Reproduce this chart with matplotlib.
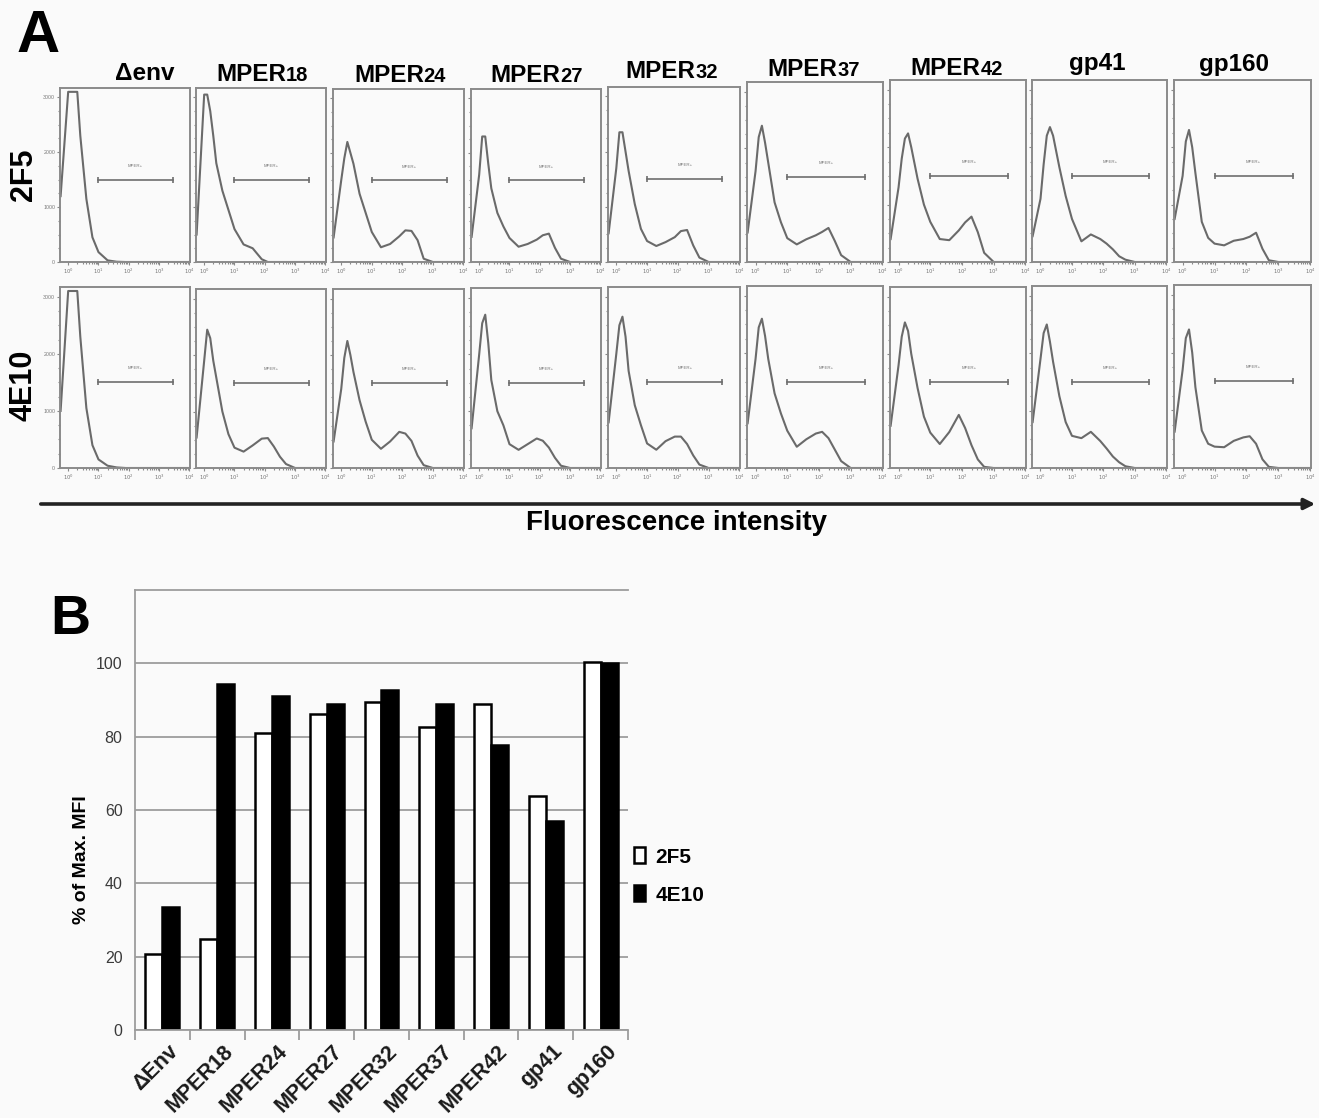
import numpy as np
import matplotlib
matplotlib.use('Agg')
import matplotlib.pyplot as plt
from matplotlib.patches import FancyArrowPatch

plt.rcParams['font.family'] = ['Liberation Sans', 'DejaVu Sans']

# ---- panel A: flow histograms (x in log10 decades, y = cell counts) ----
SAMPLES = ['Δenv', 'MPER18', 'MPER24', 'MPER27', 'MPER32', 'MPER37', 'MPER42', 'gp41', 'gp160']
TITLE_MAIN = ['Δenv', 'MPER', 'MPER', 'MPER', 'MPER', 'MPER', 'MPER', 'gp41', 'gp160']
TITLE_SUB = ['', '18', '24', '27', '32', '37', '42', '', '']
ANTIBODIES = ['2F5', '4E10']

LOG_X = [-0.25, 0.0, 0.1, 0.2, 0.3, 0.4, 0.6, 0.8, 1.0, 1.3, 1.6, 1.9, 2.1, 2.3, 2.5, 2.7, 3.0, 4.0]

counts_2f5 = [
    [1200, 3100, 3100, 3100, 3100, 2300, 1150, 450, 180, 30, 5, 0, 0, 0, 0, 0, 0, 0],
    [500, 3050, 3050, 2750, 2300, 1800, 1300, 950, 600, 320, 250, 50, 0, 0, 0, 0, 0, 0],
    [450, 1500, 1900, 2200, 2000, 1800, 1250, 900, 550, 270, 330, 470, 580, 570, 400, 60, 0, 0],
    [460, 1600, 2300, 2300, 1800, 1350, 900, 650, 440, 280, 330, 410, 490, 520, 260, 60, 0, 0],
    [520, 1700, 2350, 2350, 2000, 1650, 1050, 600, 380, 290, 360, 450, 560, 580, 300, 80, 0, 0],
    [520, 1600, 2200, 2400, 2100, 1750, 1050, 700, 420, 310, 400, 470, 530, 600, 370, 120, 0, 0],
    [400, 1300, 1800, 2150, 2240, 2000, 1450, 1000, 700, 400, 380, 550, 690, 790, 520, 160, 0, 0],
    [450, 1100, 1700, 2200, 2350, 2200, 1650, 1150, 750, 360, 480, 400, 320, 220, 100, 40, 0, 0],
    [750, 1500, 2100, 2300, 2000, 1550, 700, 420, 320, 290, 370, 400, 440, 510, 230, 30, 0, 0],
]
counts_4e10 = [
    [1000, 3100, 3100, 3100, 3100, 2300, 1050, 400, 150, 40, 10, 0, 0, 0, 0, 0, 0, 0],
    [540, 1900, 2450, 2300, 1900, 1600, 1000, 600, 360, 290, 400, 520, 530, 380, 200, 70, 0, 0],
    [470, 1400, 1950, 2250, 2000, 1700, 1200, 820, 500, 340, 470, 640, 610, 480, 220, 50, 0, 0],
    [700, 2000, 2550, 2700, 2200, 1550, 1000, 750, 420, 320, 420, 520, 480, 360, 180, 40, 0, 0],
    [800, 2000, 2500, 2650, 2300, 1700, 1100, 750, 430, 320, 470, 550, 550, 420, 220, 60, 0, 0],
    [780, 1900, 2450, 2600, 2300, 1900, 1300, 950, 650, 370, 500, 600, 630, 520, 320, 120, 0, 0],
    [740, 1800, 2300, 2550, 2400, 2000, 1400, 900, 620, 420, 630, 930, 700, 400, 150, 20, 0, 0],
    [800, 1900, 2350, 2500, 2200, 1850, 1250, 800, 560, 520, 630, 470, 340, 200, 100, 30, 0, 0],
    [630, 1700, 2250, 2400, 2000, 1400, 650, 420, 370, 360, 470, 530, 550, 420, 150, 20, 0, 0],
]

# "MPER+" gate marker
GATE_X = [1.0, 3.45]
GATE_Y = 1500

# ---- panel B: % of max MFI ----
bar_labels = ['ΔEnv', 'MPER18', 'MPER24', 'MPER27', 'MPER32', 'MPER37', 'MPER42', 'gp41', 'gp160']
mfi_2f5 = [20.7, 24.8, 81.1, 86.3, 89.5, 82.6, 89.0, 63.7, 100.5]
mfi_4e10 = [33.5, 94.5, 91.2, 88.8, 92.6, 88.9, 77.6, 56.9, 100.0]

W, H = 1319, 1118
BG = '#fafafa'
fig = plt.figure(figsize=(W / 100, H / 100), dpi=100, facecolor=BG)


def px_axes(x0, y0, x1, y1):
    return fig.add_axes([x0 / W, 1 - y1 / H, (x1 - x0) / W, (y1 - y0) / H])


col_left = [60, 196, 333, 471, 608, 747, 890, 1032, 1174]
col_right = [190, 326, 464, 601, 740, 883, 1026, 1167, 1311]
row1_top = [88, 88, 89, 89, 87, 82, 80, 80, 80]
row2_top = [287, 289, 289, 288, 287, 286, 287, 286, 285]
row_bottom = [262, 468]
title_x = [145, 262, 400, 537, 672, 814, 957, 1097, 1234]
title_y = [80, 81, 82, 82, 78, 76, 75, 70, 71]

minor = [d + np.log10(k) for d in range(4) for k in range(2, 10)]

for r, counts in enumerate([counts_2f5, counts_4e10]):
    tops = row1_top if r == 0 else row2_top
    for c in range(len(SAMPLES)):
        ax = px_axes(col_left[c], tops[c], col_right[c], row_bottom[r])
        ax.set_facecolor(BG)
        ax.plot(LOG_X, counts[c], color='#6a6a6a', lw=1.5)
        ax.plot(GATE_X, [GATE_Y, GATE_Y], color='#6e6e6e', lw=1.2, marker='|', ms=5, mew=1.2)
        ax.text(np.mean(GATE_X), GATE_Y + 230, 'MPER+', fontsize=3.2, color='#777777', ha='center')
        ax.set_xlim(-0.27, 4.02)
        ax.set_ylim(0, 3170)
        ax.set_xticks(range(5))
        ax.set_xticklabels([r'$10^{%d}$' % d for d in range(5)])
        ax.set_xticks(minor, minor=True)
        ax.set_yticks([0, 1000, 2000, 3000])
        ax.set_yticks(range(250, 3100, 250), minor=True)
        if c == 0:
            ax.set_yticklabels(['0', '1000', '2000', '3000'])
        else:
            ax.set_yticklabels([])
        ax.tick_params(which='both', colors='#8a8a8a', labelcolor='#777777', labelsize=3.8,
                       length=2.5, width=0.8, pad=1)
        ax.tick_params(which='minor', length=1.5)
        for s in ax.spines.values():
            s.set_color('#8a8a8a')
            s.set_linewidth(1.4)

# column titles: main text plus smaller number
renderer = fig.canvas.get_renderer()
for c in range(len(SAMPLES)):
    yb = 1 - title_y[c] / H
    t1 = fig.text(0, yb, TITLE_MAIN[c], fontsize=17.5, fontweight='bold', va='baseline', ha='left')
    t2 = fig.text(0, yb, TITLE_SUB[c], fontsize=14.5, fontweight='bold', va='baseline', ha='left')
    w1 = t1.get_window_extent(renderer).width
    w2 = t2.get_window_extent(renderer).width if TITLE_SUB[c] else 0
    x0 = title_x[c] - (w1 + w2) / 2
    t1.set_x(x0 / W)
    t2.set_x((x0 + w1) / W)

fig.text(17 / W, 1 - 36 / H, 'A', fontsize=43, fontweight='bold', va='center', ha='left')
fig.text(24 / W, 1 - 175 / H, ANTIBODIES[0], fontsize=22, fontweight='bold', rotation=90,
         ha='center', va='center')
fig.text(24 / W, 1 - 385 / H, ANTIBODIES[1], fontsize=22, fontweight='bold', rotation=90,
         ha='center', va='center')

arrow = FancyArrowPatch((38 / W, 1 - 504 / H), (1318 / W, 1 - 504 / H), transform=fig.transFigure,
                        arrowstyle='-|>', mutation_scale=16, lw=2.6, color='#222222')
fig.add_artist(arrow)
fig.text(677 / W, 1 - 523 / H, 'Fluorescence intensity', fontsize=20, fontweight='bold',
         ha='center', va='center')

# ---- panel B ----
axb = px_axes(135, 590, 628, 1030)
axb.set_facecolor(BG)
x = np.arange(len(bar_labels))
bw = 0.31
axb.bar(x - bw / 2, mfi_2f5, bw, color='white', edgecolor='black', lw=1.8, label=ANTIBODIES[0])
axb.bar(x + bw / 2, mfi_4e10, bw, color='black', edgecolor='black', lw=1.8, label=ANTIBODIES[1])
axb.set_xlim(-0.5, len(bar_labels) - 0.5)
axb.set_ylim(0, 120)
axb.set_yticks(range(0, 101, 20))
axb.yaxis.grid(True, color='#9c9c9c', lw=1.3)
axb.set_axisbelow(True)
axb.set_xticks(x + 0.1)
axb.set_xticklabels(bar_labels, rotation=45, ha='right', rotation_mode='anchor',
                    fontsize=15.5, fontweight='bold', color='#1a1a1a')
axb.set_xticks(np.arange(-0.5, len(bar_labels)), minor=True)
axb.tick_params(axis='x', which='major', length=0, pad=8)
axb.tick_params(axis='x', which='minor', length=7, width=1.3, color='#9c9c9c')
axb.tick_params(axis='y', length=0, pad=9, labelsize=11.5, labelcolor='#3a3a3a')
for side in ['left', 'bottom', 'top']:
    axb.spines[side].set_color('#9c9c9c')
    axb.spines[side].set_linewidth(1.3)
axb.spines['right'].set_visible(False)
fig.text(82 / W, 1 - 860 / H, '% of Max. MFI', fontsize=14, fontweight='bold', rotation=90,
         ha='center', va='center')
fig.text(50 / W, 1 - 620 / H, 'B', fontsize=40, fontweight='bold', va='center', ha='left')

axb.legend(loc='center left', bbox_to_anchor=(0.975, 0.35), frameon=False,
           prop={'weight': 'bold', 'size': 15}, handlelength=0.5, handleheight=0.8,
           handletextpad=0.5, labelspacing=0.9)

fig.savefig('out.png', dpi=100, facecolor=BG)
